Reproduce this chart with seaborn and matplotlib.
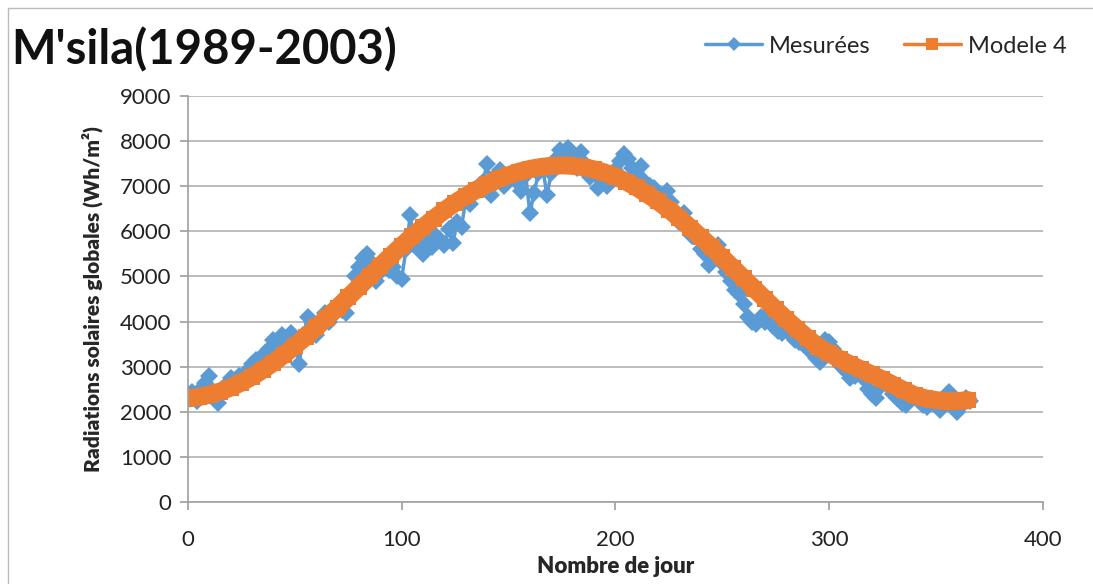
import matplotlib
matplotlib.use("Agg")
import matplotlib.pyplot as plt
from matplotlib.lines import Line2D
import seaborn as sns
import pandas as pd

# measured daily radiation (read every 2 days)
jour_mes = list(range(0, 367, 2))
mesurees = [
    2400, 2450, 2250, 2500, 2650, 2800, 2450, 2200, 2500, 2600,
    2750, 2700, 2800, 2850, 2900, 3050, 3150, 3100, 3300, 3400,
    3600, 3500, 3700, 3600, 3750, 3500, 3050, 3700, 4100, 4000,
    3700, 3950, 4200, 4000, 4150, 4300, 4250, 4200, 4600, 5000,
    5200, 5400, 5500, 5300, 4900, 5100, 5300, 5150, 5200, 5000,
    4950, 5600, 6350, 5700, 5600, 5500, 5800, 5650, 5900, 5800,
    5700, 6050, 5750, 6200, 6100, 6700, 6600, 6850, 7000, 7100,
    7500, 6800, 7100, 7350, 7000, 7200, 7300, 7100, 6900, 7250,
    6400, 6850, 7300, 7400, 6800, 7300, 7600, 7800, 7700, 7850,
    7600, 7400, 7750, 7500, 7200, 7300, 6950, 7100, 7000, 7200,
    7350, 7550, 7700, 7600, 7400, 7250, 7450, 7100, 7000, 6950,
    6850, 6700, 6900, 6650, 6450, 6200, 6400, 6100, 5900, 6000,
    5600, 5500, 5250, 5400, 5700, 5300, 5100, 4900, 4700, 4600,
    4400, 4100, 4000, 3950, 4100, 4000, 4200, 3900, 3800, 3750,
    3900, 3700, 3600, 3550, 3500, 3400, 3350, 3200, 3100, 3600,
    3550, 3400, 3200, 3000, 2900, 2750, 2800, 2950, 2750, 2500,
    2400, 2300, 2550, 2700, 2650, 2400, 2300, 2200, 2150, 2300,
    2350, 2250, 2150, 2100, 2200, 2150, 2050, 2200, 2450, 2100,
    2000, 2150, 2300, 2250,
]

# model 4 (read every 5 days)
jour_mod = list(range(0, 366, 5))
modele4 = [
    2300, 2330, 2380, 2450, 2540, 2650, 2780, 2930, 3090, 3270,
    3460, 3660, 3870, 4090, 4310, 4540, 4770, 5000, 5230, 5460,
    5680, 5890, 6090, 6280, 6460, 6630, 6780, 6920, 7040, 7150,
    7240, 7320, 7380, 7420, 7450, 7460, 7450, 7420, 7370, 7300,
    7210, 7100, 6970, 6820, 6660, 6480, 6290, 6080, 5870, 5650,
    5420, 5190, 4960, 4730, 4500, 4270, 4050, 3840, 3630, 3440,
    3300, 3170, 3050, 2940, 2830, 2720, 2600, 2480, 2370, 2300,
    2260, 2240, 2240, 2260,
]

df_mes = pd.DataFrame({"jour": jour_mes, "val": mesurees})
df_mod = pd.DataFrame({"jour": jour_mod, "val": modele4})

sns.set_theme(style="white")
plt.rcParams["font.family"] = ["Lato", "DejaVu Sans"]

bleu = "#5B9BD5"
orange = "#ED7D31"

fig = plt.figure(figsize=(10.93, 5.84), dpi=100)
ax = fig.add_axes([0.172, 0.140, 0.782, 0.696])

sns.lineplot(data=df_mes, x="jour", y="val", ax=ax, color=bleu, lw=2.5,
             marker="D", markersize=9.5, markeredgewidth=0, label="Mesurées")
sns.lineplot(data=df_mod, x="jour", y="val", ax=ax, color=orange, lw=13,
             marker="s", markersize=12, markeredgewidth=0, label="Modele 4")

ax.set_xlim(0, 400)
ax.set_ylim(0, 9000)
ax.set_xticks(range(0, 401, 100))
ax.set_yticks(range(0, 9001, 1000))
ax.yaxis.grid(True, color="#B0B0B0", lw=1.2)
ax.xaxis.grid(False)
for s in ["top", "right"]:
    ax.spines[s].set_visible(False)
for s in ["left", "bottom"]:
    ax.spines[s].set_color("#A0A0A0")
    ax.spines[s].set_linewidth(1.2)
ax.tick_params(axis="x", bottom=True, length=6, color="#A0A0A0", pad=14,
               labelsize=16, labelcolor="#222222")
ax.tick_params(axis="y", left=True, length=6, color="#A0A0A0", pad=6,
               labelsize=16, labelcolor="#222222")

ax.set_xlabel("Nombre de jour", fontsize=16, fontweight="heavy", labelpad=4)
ax.set_ylabel("Radiations solaires globales (Wh/m²)", fontsize=15,
              fontweight="heavy", labelpad=12)

ax.get_legend().remove()
handles = [
    Line2D([], [], color=bleu, lw=2.5, marker="D", markersize=7, markeredgewidth=0),
    Line2D([], [], color=orange, lw=2.5, marker="s", markersize=8, markeredgewidth=0),
]
fig.legend(handles, ["Mesurées", "Modele 4"], loc="center right",
           bbox_to_anchor=(0.995, 0.921), ncol=2, frameon=False, fontsize=17,
           handlelength=2.4, columnspacing=1.4, handletextpad=0.3)

fig.text(0.010, 0.915, "M'sila(1989-2003)", fontsize=34, fontweight="bold",
         va="center", ha="left", color="#111111")

# thin frame of the chart area
fig.add_artist(Line2D([8 / 1093, 1], [1 - 8 / 584, 1 - 8 / 584],
                      transform=fig.transFigure, color="#BBBBBB", lw=1))
fig.add_artist(Line2D([8 / 1093, 8 / 1093], [0, 1 - 8 / 584],
                      transform=fig.transFigure, color="#BBBBBB", lw=1))

fig.savefig("out.png", dpi=100)
